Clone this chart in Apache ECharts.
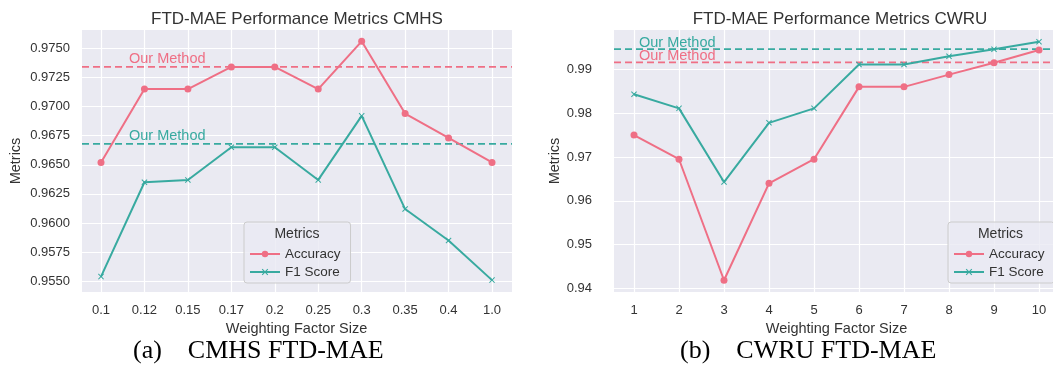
<!DOCTYPE html>
<html>
<head>
<meta charset="utf-8">
<script src="https://cdn.jsdelivr.net/npm/echarts@6/dist/echarts.min.js"></script>
<style>
  html, body { margin: 0; padding: 0; background: #fff; }
  #main { width: 1053px; height: 367px; }
</style>
</head>
<body>
<div id="main"></div>
<script>
// CMHS panel
const cmhsFactors = ['0.1', '0.12', '0.15', '0.17', '0.2', '0.25', '0.3', '0.35', '0.4', '1.0'];
const cmhsAcc = [0.9652, 0.9715, 0.9715, 0.9734, 0.9734, 0.9715, 0.9756, 0.9694, 0.9673, 0.9652];
const cmhsF1 = [0.9554, 0.9635, 0.9637, 0.9665, 0.9665, 0.9637, 0.9692, 0.9612, 0.9585, 0.9551];
const cmhsOurs = [0.9734, 0.9668]; // accuracy, f1
const cmhsTicks = [0.955, 0.9575, 0.96, 0.9625, 0.965, 0.9675, 0.97, 0.9725, 0.975];

// CWRU panel
const cwruFactors = ['1', '2', '3', '4', '5', '6', '7', '8', '9', '10'];
const cwruAcc = [0.9750, 0.9695, 0.9419, 0.9640, 0.9695, 0.9860, 0.9860, 0.9888, 0.9915, 0.9944];
const cwruF1 = [0.9843, 0.9811, 0.9643, 0.9778, 0.9811, 0.9911, 0.9911, 0.9930, 0.9946, 0.9963];
const cwruOurs = [0.9916, 0.9946];
const cwruTicks = [0.94, 0.95, 0.96, 0.97, 0.98, 0.99];

const RED = '#ef6f85';
const TEAL = '#38aaa0';
const BG = '#eaeaf2';
const TXT = '#333';
const XMARK = 'path://M0,1.2 L1.2,0 L5,3.8 L8.8,0 L10,1.2 L6.2,5 L10,8.8 L8.8,10 L5,6.2 L1.2,10 L0,8.8 L3.8,5 Z';

const panels = [
  {
    title: 'FTD-MAE Performance Metrics CMHS', caption: '(a)\u2003CMHS FTD-MAE',
    factors: cmhsFactors, acc: cmhsAcc, f1: cmhsF1, ours: cmhsOurs, ticks: cmhsTicks,
    range: [0.95408, 0.97657], digits: 4,
    bg: { left: 82, right: 541 }, data: { left: 101, right: 561 },
    labelMargin: 12, nameGap: 59, oursDist: 47, oursOff: -8,
    titleX: 297, capX: 133, legendX: 244, legendW: 106
  },
  {
    title: 'FTD-MAE Performance Metrics CWRU', caption: '(b)\u2003CWRU FTD-MAE',
    factors: cwruFactors, acc: cwruAcc, f1: cwruF1, ours: cwruOurs, ticks: cwruTicks,
    range: [0.93922, 0.99897], digits: 2,
    bg: { left: 614, right: -5 }, data: { left: 634, right: 14 },
    labelMargin: 22, nameGap: 41, oursDist: 25, oursOff: -6,
    titleX: 840, capX: 680, legendX: 948, legendW: 105
  }
];

const grid = [], xAxis = [], yAxis = [], series = [], legend = [], graphic = [];

panels.forEach((p, i) => {
  const b = 2 * i, d = 2 * i + 1;
  grid.push({ left: p.bg.left, right: p.bg.right, top: 30, bottom: 75, show: true, backgroundColor: BG, borderWidth: 0 });
  grid.push({ left: p.data.left, right: p.data.right, top: 30, bottom: 75 });

  xAxis.push({ gridIndex: b, type: 'value', min: 0, max: 1, show: false });
  xAxis.push({
    gridIndex: d, type: 'category', data: p.factors, boundaryGap: false,
    axisLine: { show: false }, axisTick: { show: false },
    axisLabel: { color: TXT, fontSize: 13, margin: 12, fontFamily: 'Liberation Sans' },
    splitLine: { show: true, lineStyle: { color: '#fff', width: 1.2 } },
    name: 'Weighting Factor Size', nameLocation: 'middle', nameGap: 29,
    nameTextStyle: { color: TXT, fontSize: 14.5, fontFamily: 'Liberation Sans' }
  });

  yAxis.push({
    gridIndex: b, type: 'value', min: p.range[0], max: p.range[1],
    axisLine: { show: false },
    axisTick: { show: false, customValues: p.ticks },
    axisLabel: {
      customValues: p.ticks, color: TXT, fontSize: 13, margin: p.labelMargin,
      fontFamily: 'Liberation Sans', formatter: v => v.toFixed(p.digits)
    },
    splitLine: { show: true, lineStyle: { color: '#fff', width: 1.2 } },
    name: 'Metrics', nameLocation: 'middle', nameGap: p.nameGap,
    nameTextStyle: { color: TXT, fontSize: 14.5, fontFamily: 'Liberation Sans' }
  });
  yAxis.push({ gridIndex: d, type: 'value', min: p.range[0], max: p.range[1], show: false, splitLine: { show: false } });

  // "Our Method" reference lines across the whole plot
  [RED, TEAL].forEach((c, k) => {
    series.push({
      name: 'ours' + i + k, type: 'line', xAxisIndex: b, yAxisIndex: b, z: 1,
      data: [[0, p.ours[k]], [1, p.ours[k]]],
      symbol: 'none', silent: true,
      lineStyle: { color: c, width: 1.8, type: [7, 4] },
      markPoint: {
        symbol: 'rect', symbolSize: 0, silent: true,
        itemStyle: { color: 'transparent' },
        data: [{ coord: [0, p.ours[k]] }],
        label: {
          show: true, formatter: 'Our Method', position: 'right', distance: p.oursDist,
          offset: [0, p.oursOff], color: c, fontSize: 14.5, fontFamily: 'Liberation Sans'
        }
      }
    });
  });

  series.push({
    name: 'Accuracy', type: 'line', xAxisIndex: d, yAxisIndex: d, z: 3,
    data: p.acc, color: RED, symbol: 'circle', symbolSize: 7,
    lineStyle: { width: 2 }
  });
  series.push({
    name: 'F1 Score', type: 'line', xAxisIndex: d, yAxisIndex: d, z: 3,
    data: p.f1, color: TEAL, symbol: XMARK, symbolSize: 6,
    lineStyle: { width: 2 }
  });

  legend.push({
    data: ['Accuracy', 'F1 Score'], orient: 'vertical', left: p.legendX, top: 222,
    width: p.legendW, padding: [25, 10, 4, 5], itemGap: 4, itemWidth: 30, itemHeight: 8,
    backgroundColor: 'rgba(234,234,242,0.8)', borderColor: '#cccccc', borderWidth: 1, borderRadius: 3,
    textStyle: { color: TXT, fontSize: 13.5, fontFamily: 'Liberation Sans' }
  });

  graphic.push({
    type: 'text', x: p.titleX, y: 19, z: 10,
    style: { text: p.title, fill: TXT, font: '17px "Liberation Sans"', align: 'center', verticalAlign: 'middle' }
  });
  graphic.push({
    type: 'text', x: p.legendX + p.legendW / 2, y: 234, z: 10,
    style: { text: 'Metrics', fill: TXT, font: '14px "Liberation Sans"', align: 'center', verticalAlign: 'middle' }
  });
  graphic.push({
    type: 'text', x: p.capX, y: 351, z: 10,
    style: { text: p.caption, fill: '#000', font: '26px "Liberation Serif"', align: 'left', verticalAlign: 'middle' }
  });
});

const chart = echarts.init(document.getElementById('main'));
chart.setOption({
  animation: false,
  grid, xAxis, yAxis, series, legend, graphic
});
</script>
</body>
</html>
